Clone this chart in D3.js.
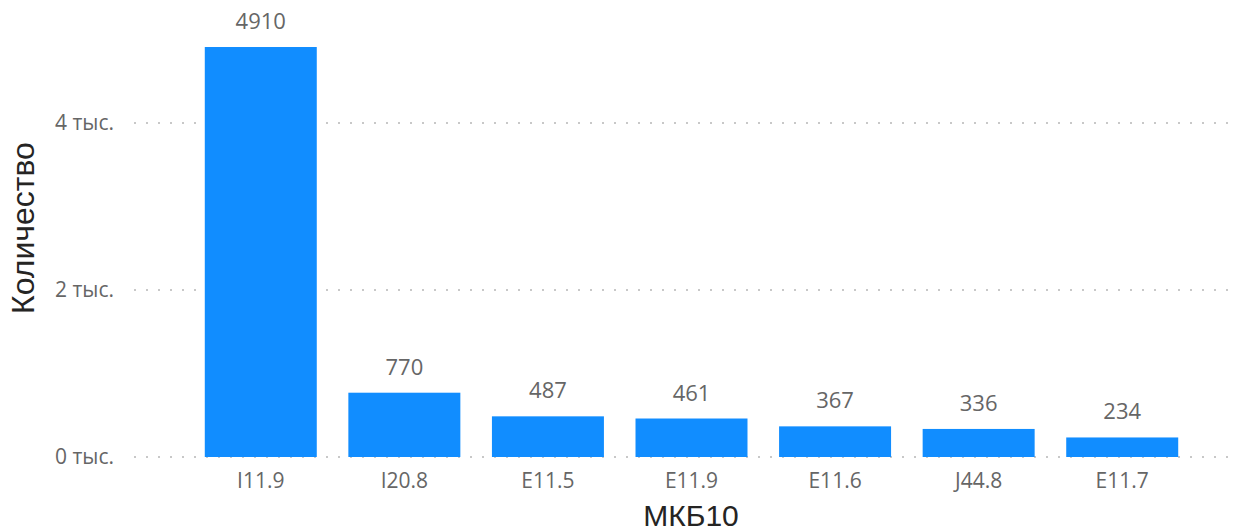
<!DOCTYPE html>
<html><head><meta charset="utf-8">
<script src="https://cdn.jsdelivr.net/npm/d3@7"></script>
<style>body{margin:0;background:#fff;} text{font-family:"Open Sans","Noto Sans",sans-serif;}</style>
</head><body>
<svg id="c" width="1237" height="531"></svg>
<script>
const categories = ["I11.9","I20.8","E11.5","E11.9","E11.6","J44.8","E11.7"];
const values = [4910,770,487,461,367,336,234];
const yTicks = [0,2000,4000];
const yTickLabels = ["0 тыс.","2 тыс.","4 тыс."];

const svg = d3.select("#c");
const x = d3.scaleBand().domain(categories).range([133,1250]).paddingInner(0.22).paddingOuter(0.5);
const y = d3.scaleLinear().domain([0,4000]).range([457,123]);

// gridlines
svg.append("g").selectAll("line").data(yTicks).join("line")
  .attr("x1",134).attr("x2",1232)
  .attr("y1",d=>y(d)).attr("y2",d=>y(d))
  .attr("stroke","#c8c8c8").attr("stroke-width",2).attr("stroke-dasharray","2,10");

// y tick labels
svg.append("g").selectAll("text").data(yTicks).join("text")
  .attr("x",114).attr("y",d=>y(d)).attr("dy","0.35em")
  .attr("text-anchor","end").attr("fill","#666").style("font-size","21px")
  .text((d,i)=>yTickLabels[i]);

// bars
svg.append("g").selectAll("rect").data(values).join("rect")
  .attr("x",(d,i)=>x(categories[i])).attr("width",x.bandwidth())
  .attr("y",d=>y(d)).attr("height",d=>y(0)-y(d)).attr("fill","#118dff");

// value labels
svg.append("g").selectAll("text").data(values).join("text")
  .attr("x",(d,i)=>x(categories[i])+x.bandwidth()/2).attr("y",d=>y(d)-18)
  .attr("text-anchor","middle").attr("fill","#666").style("font-size","22px")
  .text(d=>d);

// x tick labels
svg.append("g").selectAll("text").data(categories).join("text")
  .attr("x",d=>x(d)+x.bandwidth()/2).attr("y",488)
  .attr("text-anchor","middle").attr("fill","#666").style("font-size","21px")
  .text(d=>d);

// axis titles
svg.append("text").attr("x",691).attr("y",526).attr("text-anchor","middle")
  .attr("fill","#252423").style("font-family","'Liberation Sans',Arial,sans-serif").style("font-size","30px").text("МКБ10");
svg.append("text").attr("transform","translate(34,228) rotate(-90)").attr("text-anchor","middle")
  .attr("fill","#252423").style("font-family","'Liberation Sans',Arial,sans-serif").style("font-size","32px").text("Количество");
</script>
</body></html>
